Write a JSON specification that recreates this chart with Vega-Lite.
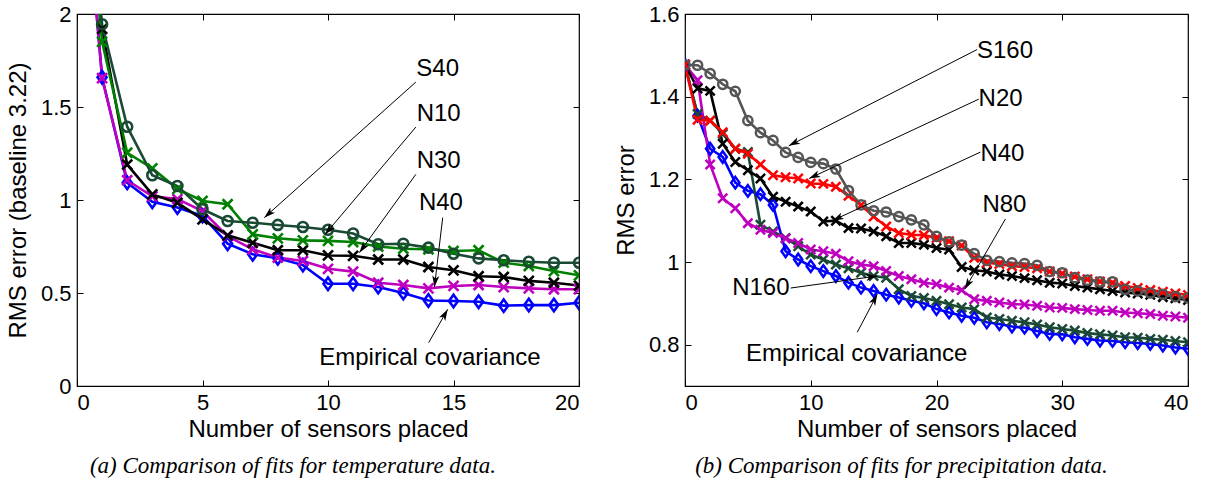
{
  "$schema": "https://vega.github.io/schema/vega-lite/v6.json",
  "background": "white",
  "padding": {"left": 5, "top": 2, "right": 5, "bottom": 0},
  "bounds": "flush",
  "spacing": 106,
  "config": {
    "font": "Liberation Sans",
    "view": {"stroke": "black", "strokeWidth": 1.2},
    "axis": {
      "domain": false, "grid": false, "tickColor": "black", "tickSize": -6, "tickWidth": 1,
      "labelPadding": 12, "labelFont": "Liberation Sans", "labelFontSize": 22, "labelColor": "black",
      "titleFont": "Liberation Sans", "titleFontSize": 24, "titleFontWeight": "normal", "titleColor": "black"
    }
  },
  "datasets": {
    "temp": [
      {"s": "Empirical", "x": 0, "y": 3.22}, {"s": "Empirical", "x": 1, "y": 1.66}, {"s": "Empirical", "x": 2, "y": 1.093}, {"s": "Empirical", "x": 3, "y": 0.99}, {"s": "Empirical", "x": 4, "y": 0.96}, {"s": "Empirical", "x": 5, "y": 0.914}, {"s": "Empirical", "x": 6, "y": 0.765}, {"s": "Empirical", "x": 7, "y": 0.708}, {"s": "Empirical", "x": 8, "y": 0.687}, {"s": "Empirical", "x": 9, "y": 0.65}, {"s": "Empirical", "x": 10, "y": 0.55}, {"s": "Empirical", "x": 11, "y": 0.55}, {"s": "Empirical", "x": 12, "y": 0.532}, {"s": "Empirical", "x": 13, "y": 0.5}, {"s": "Empirical", "x": 14, "y": 0.46}, {"s": "Empirical", "x": 15, "y": 0.457}, {"s": "Empirical", "x": 16, "y": 0.453}, {"s": "Empirical", "x": 17, "y": 0.432}, {"s": "Empirical", "x": 18, "y": 0.435}, {"s": "Empirical", "x": 19, "y": 0.435}, {"s": "Empirical", "x": 20, "y": 0.448},
      {"s": "N40", "x": 0, "y": 3.22}, {"s": "N40", "x": 1, "y": 1.655}, {"s": "N40", "x": 2, "y": 1.106}, {"s": "N40", "x": 3, "y": 1.02}, {"s": "N40", "x": 4, "y": 1.005}, {"s": "N40", "x": 5, "y": 0.94}, {"s": "N40", "x": 6, "y": 0.806}, {"s": "N40", "x": 7, "y": 0.735}, {"s": "N40", "x": 8, "y": 0.69}, {"s": "N40", "x": 9, "y": 0.672}, {"s": "N40", "x": 10, "y": 0.63}, {"s": "N40", "x": 11, "y": 0.615}, {"s": "N40", "x": 12, "y": 0.555}, {"s": "N40", "x": 13, "y": 0.543}, {"s": "N40", "x": 14, "y": 0.525}, {"s": "N40", "x": 15, "y": 0.538}, {"s": "N40", "x": 16, "y": 0.543}, {"s": "N40", "x": 17, "y": 0.532}, {"s": "N40", "x": 18, "y": 0.525}, {"s": "N40", "x": 19, "y": 0.52}, {"s": "N40", "x": 20, "y": 0.52},
      {"s": "N30", "x": 0, "y": 3.22}, {"s": "N30", "x": 1, "y": 1.92}, {"s": "N30", "x": 2, "y": 1.19}, {"s": "N30", "x": 3, "y": 1.03}, {"s": "N30", "x": 4, "y": 0.985}, {"s": "N30", "x": 5, "y": 0.896}, {"s": "N30", "x": 6, "y": 0.81}, {"s": "N30", "x": 7, "y": 0.77}, {"s": "N30", "x": 8, "y": 0.73}, {"s": "N30", "x": 9, "y": 0.73}, {"s": "N30", "x": 10, "y": 0.702}, {"s": "N30", "x": 11, "y": 0.7}, {"s": "N30", "x": 12, "y": 0.68}, {"s": "N30", "x": 13, "y": 0.68}, {"s": "N30", "x": 14, "y": 0.64}, {"s": "N30", "x": 15, "y": 0.622}, {"s": "N30", "x": 16, "y": 0.59}, {"s": "N30", "x": 17, "y": 0.586}, {"s": "N30", "x": 18, "y": 0.565}, {"s": "N30", "x": 19, "y": 0.555}, {"s": "N30", "x": 20, "y": 0.54},
      {"s": "N10", "x": 0, "y": 3.22}, {"s": "N10", "x": 1, "y": 1.85}, {"s": "N10", "x": 2, "y": 1.254}, {"s": "N10", "x": 3, "y": 1.17}, {"s": "N10", "x": 4, "y": 1.06}, {"s": "N10", "x": 5, "y": 0.995}, {"s": "N10", "x": 6, "y": 0.977}, {"s": "N10", "x": 7, "y": 0.815}, {"s": "N10", "x": 8, "y": 0.794}, {"s": "N10", "x": 9, "y": 0.783}, {"s": "N10", "x": 10, "y": 0.78}, {"s": "N10", "x": 11, "y": 0.774}, {"s": "N10", "x": 12, "y": 0.75}, {"s": "N10", "x": 13, "y": 0.738}, {"s": "N10", "x": 14, "y": 0.735}, {"s": "N10", "x": 15, "y": 0.726}, {"s": "N10", "x": 16, "y": 0.73}, {"s": "N10", "x": 17, "y": 0.663}, {"s": "N10", "x": 18, "y": 0.645}, {"s": "N10", "x": 19, "y": 0.618}, {"s": "N10", "x": 20, "y": 0.595},
      {"s": "S40", "x": 0, "y": 3.22}, {"s": "S40", "x": 1, "y": 1.945}, {"s": "S40", "x": 2, "y": 1.394}, {"s": "S40", "x": 3, "y": 1.133}, {"s": "S40", "x": 4, "y": 1.075}, {"s": "S40", "x": 5, "y": 0.95}, {"s": "S40", "x": 6, "y": 0.887}, {"s": "S40", "x": 7, "y": 0.878}, {"s": "S40", "x": 8, "y": 0.866}, {"s": "S40", "x": 9, "y": 0.855}, {"s": "S40", "x": 10, "y": 0.84}, {"s": "S40", "x": 11, "y": 0.82}, {"s": "S40", "x": 12, "y": 0.762}, {"s": "S40", "x": 13, "y": 0.765}, {"s": "S40", "x": 14, "y": 0.744}, {"s": "S40", "x": 15, "y": 0.711}, {"s": "S40", "x": 16, "y": 0.686}, {"s": "S40", "x": 17, "y": 0.676}, {"s": "S40", "x": 18, "y": 0.668}, {"s": "S40", "x": 19, "y": 0.663}, {"s": "S40", "x": 20, "y": 0.663}
    ],
    "tempNotes": [
      {"lab": "S40", "tx": 14.37, "ty": 1.703, "x1": 13.5, "y1": 1.634, "x2": 7.46, "y2": 0.905, "ang": -131.8},
      {"lab": "N10", "tx": 14.41, "ty": 1.464, "x1": 13.5, "y1": 1.392, "x2": 9.88, "y2": 0.815, "ang": -139.7},
      {"lab": "N30", "tx": 14.41, "ty": 1.21, "x1": 13.5, "y1": 1.138, "x2": 11.25, "y2": 0.717, "ang": -144.1},
      {"lab": "N40", "tx": 14.5, "ty": 0.985, "x1": 14.57, "y1": 0.905, "x2": 14.24, "y2": 0.532, "ang": -173.1},
      {"lab": "Empirical covariance", "tx": 14.06, "ty": 0.152, "x1": 14.01, "y1": 0.233, "x2": 14.77, "y2": 0.412, "ang": 29.6}
    ],
    "precip": [
      {"s": "Empirical", "x": 0, "y": 1.477}, {"s": "Empirical", "x": 1, "y": 1.354}, {"s": "Empirical", "x": 2, "y": 1.274}, {"s": "Empirical", "x": 3, "y": 1.254}, {"s": "Empirical", "x": 4, "y": 1.192}, {"s": "Empirical", "x": 5, "y": 1.172}, {"s": "Empirical", "x": 6, "y": 1.164}, {"s": "Empirical", "x": 7, "y": 1.138}, {"s": "Empirical", "x": 8, "y": 1.026}, {"s": "Empirical", "x": 9, "y": 1.006}, {"s": "Empirical", "x": 10, "y": 0.99}, {"s": "Empirical", "x": 11, "y": 0.978}, {"s": "Empirical", "x": 12, "y": 0.966}, {"s": "Empirical", "x": 13, "y": 0.95}, {"s": "Empirical", "x": 14, "y": 0.938}, {"s": "Empirical", "x": 15, "y": 0.93}, {"s": "Empirical", "x": 16, "y": 0.921}, {"s": "Empirical", "x": 17, "y": 0.914}, {"s": "Empirical", "x": 18, "y": 0.906}, {"s": "Empirical", "x": 19, "y": 0.9}, {"s": "Empirical", "x": 20, "y": 0.886}, {"s": "Empirical", "x": 21, "y": 0.878}, {"s": "Empirical", "x": 22, "y": 0.87}, {"s": "Empirical", "x": 23, "y": 0.865}, {"s": "Empirical", "x": 24, "y": 0.854}, {"s": "Empirical", "x": 25, "y": 0.85}, {"s": "Empirical", "x": 26, "y": 0.844}, {"s": "Empirical", "x": 27, "y": 0.841}, {"s": "Empirical", "x": 28, "y": 0.833}, {"s": "Empirical", "x": 29, "y": 0.826}, {"s": "Empirical", "x": 30, "y": 0.825}, {"s": "Empirical", "x": 31, "y": 0.818}, {"s": "Empirical", "x": 32, "y": 0.814}, {"s": "Empirical", "x": 33, "y": 0.81}, {"s": "Empirical", "x": 34, "y": 0.809}, {"s": "Empirical", "x": 35, "y": 0.806}, {"s": "Empirical", "x": 36, "y": 0.804}, {"s": "Empirical", "x": 37, "y": 0.802}, {"s": "Empirical", "x": 38, "y": 0.798}, {"s": "Empirical", "x": 39, "y": 0.793}, {"s": "Empirical", "x": 40, "y": 0.79},
      {"s": "N160", "x": 0, "y": 1.477}, {"s": "N160", "x": 1, "y": 1.358}, {"s": "N160", "x": 2, "y": 1.342}, {"s": "N160", "x": 3, "y": 1.31}, {"s": "N160", "x": 4, "y": 1.274}, {"s": "N160", "x": 5, "y": 1.266}, {"s": "N160", "x": 6, "y": 1.09}, {"s": "N160", "x": 7, "y": 1.074}, {"s": "N160", "x": 8, "y": 1.058}, {"s": "N160", "x": 9, "y": 1.038}, {"s": "N160", "x": 10, "y": 1.018}, {"s": "N160", "x": 11, "y": 1.006}, {"s": "N160", "x": 12, "y": 0.994}, {"s": "N160", "x": 13, "y": 0.985}, {"s": "N160", "x": 14, "y": 0.974}, {"s": "N160", "x": 15, "y": 0.966}, {"s": "N160", "x": 16, "y": 0.962}, {"s": "N160", "x": 17, "y": 0.934}, {"s": "N160", "x": 18, "y": 0.918}, {"s": "N160", "x": 19, "y": 0.913}, {"s": "N160", "x": 20, "y": 0.906}, {"s": "N160", "x": 21, "y": 0.898}, {"s": "N160", "x": 22, "y": 0.89}, {"s": "N160", "x": 23, "y": 0.886}, {"s": "N160", "x": 24, "y": 0.866}, {"s": "N160", "x": 25, "y": 0.862}, {"s": "N160", "x": 26, "y": 0.858}, {"s": "N160", "x": 27, "y": 0.854}, {"s": "N160", "x": 28, "y": 0.849}, {"s": "N160", "x": 29, "y": 0.842}, {"s": "N160", "x": 30, "y": 0.838}, {"s": "N160", "x": 31, "y": 0.834}, {"s": "N160", "x": 32, "y": 0.828}, {"s": "N160", "x": 33, "y": 0.825}, {"s": "N160", "x": 34, "y": 0.822}, {"s": "N160", "x": 35, "y": 0.818}, {"s": "N160", "x": 36, "y": 0.817}, {"s": "N160", "x": 37, "y": 0.814}, {"s": "N160", "x": 38, "y": 0.812}, {"s": "N160", "x": 39, "y": 0.809}, {"s": "N160", "x": 40, "y": 0.806},
      {"s": "N80", "x": 0, "y": 1.477}, {"s": "N80", "x": 1, "y": 1.44}, {"s": "N80", "x": 2, "y": 1.236}, {"s": "N80", "x": 3, "y": 1.154}, {"s": "N80", "x": 4, "y": 1.13}, {"s": "N80", "x": 5, "y": 1.094}, {"s": "N80", "x": 6, "y": 1.078}, {"s": "N80", "x": 7, "y": 1.07}, {"s": "N80", "x": 8, "y": 1.057}, {"s": "N80", "x": 9, "y": 1.046}, {"s": "N80", "x": 10, "y": 1.03}, {"s": "N80", "x": 11, "y": 1.026}, {"s": "N80", "x": 12, "y": 1.02}, {"s": "N80", "x": 13, "y": 1.002}, {"s": "N80", "x": 14, "y": 0.994}, {"s": "N80", "x": 15, "y": 0.99}, {"s": "N80", "x": 16, "y": 0.978}, {"s": "N80", "x": 17, "y": 0.966}, {"s": "N80", "x": 18, "y": 0.958}, {"s": "N80", "x": 19, "y": 0.95}, {"s": "N80", "x": 20, "y": 0.946}, {"s": "N80", "x": 21, "y": 0.938}, {"s": "N80", "x": 22, "y": 0.932}, {"s": "N80", "x": 23, "y": 0.91}, {"s": "N80", "x": 24, "y": 0.906}, {"s": "N80", "x": 25, "y": 0.902}, {"s": "N80", "x": 26, "y": 0.898}, {"s": "N80", "x": 27, "y": 0.897}, {"s": "N80", "x": 28, "y": 0.894}, {"s": "N80", "x": 29, "y": 0.89}, {"s": "N80", "x": 30, "y": 0.889}, {"s": "N80", "x": 31, "y": 0.886}, {"s": "N80", "x": 32, "y": 0.884}, {"s": "N80", "x": 33, "y": 0.882}, {"s": "N80", "x": 34, "y": 0.882}, {"s": "N80", "x": 35, "y": 0.878}, {"s": "N80", "x": 36, "y": 0.876}, {"s": "N80", "x": 37, "y": 0.874}, {"s": "N80", "x": 38, "y": 0.87}, {"s": "N80", "x": 39, "y": 0.868}, {"s": "N80", "x": 40, "y": 0.865},
      {"s": "N40", "x": 0, "y": 1.477}, {"s": "N40", "x": 1, "y": 1.42}, {"s": "N40", "x": 2, "y": 1.414}, {"s": "N40", "x": 3, "y": 1.286}, {"s": "N40", "x": 4, "y": 1.242}, {"s": "N40", "x": 5, "y": 1.222}, {"s": "N40", "x": 6, "y": 1.202}, {"s": "N40", "x": 7, "y": 1.158}, {"s": "N40", "x": 8, "y": 1.146}, {"s": "N40", "x": 9, "y": 1.134}, {"s": "N40", "x": 10, "y": 1.122}, {"s": "N40", "x": 11, "y": 1.098}, {"s": "N40", "x": 12, "y": 1.1}, {"s": "N40", "x": 13, "y": 1.082}, {"s": "N40", "x": 14, "y": 1.081}, {"s": "N40", "x": 15, "y": 1.074}, {"s": "N40", "x": 16, "y": 1.062}, {"s": "N40", "x": 17, "y": 1.046}, {"s": "N40", "x": 18, "y": 1.046}, {"s": "N40", "x": 19, "y": 1.042}, {"s": "N40", "x": 20, "y": 1.034}, {"s": "N40", "x": 21, "y": 1.03}, {"s": "N40", "x": 22, "y": 0.988}, {"s": "N40", "x": 23, "y": 0.98}, {"s": "N40", "x": 24, "y": 0.977}, {"s": "N40", "x": 25, "y": 0.97}, {"s": "N40", "x": 26, "y": 0.966}, {"s": "N40", "x": 27, "y": 0.961}, {"s": "N40", "x": 28, "y": 0.956}, {"s": "N40", "x": 29, "y": 0.95}, {"s": "N40", "x": 30, "y": 0.948}, {"s": "N40", "x": 31, "y": 0.942}, {"s": "N40", "x": 32, "y": 0.938}, {"s": "N40", "x": 33, "y": 0.934}, {"s": "N40", "x": 34, "y": 0.93}, {"s": "N40", "x": 35, "y": 0.926}, {"s": "N40", "x": 36, "y": 0.924}, {"s": "N40", "x": 37, "y": 0.921}, {"s": "N40", "x": 38, "y": 0.915}, {"s": "N40", "x": 39, "y": 0.912}, {"s": "N40", "x": 40, "y": 0.908},
      {"s": "N20", "x": 0, "y": 1.477}, {"s": "N20", "x": 1, "y": 1.344}, {"s": "N20", "x": 2, "y": 1.342}, {"s": "N20", "x": 3, "y": 1.314}, {"s": "N20", "x": 4, "y": 1.274}, {"s": "N20", "x": 5, "y": 1.262}, {"s": "N20", "x": 6, "y": 1.236}, {"s": "N20", "x": 7, "y": 1.21}, {"s": "N20", "x": 8, "y": 1.205}, {"s": "N20", "x": 9, "y": 1.202}, {"s": "N20", "x": 10, "y": 1.19}, {"s": "N20", "x": 11, "y": 1.189}, {"s": "N20", "x": 12, "y": 1.182}, {"s": "N20", "x": 13, "y": 1.16}, {"s": "N20", "x": 14, "y": 1.138}, {"s": "N20", "x": 15, "y": 1.11}, {"s": "N20", "x": 16, "y": 1.086}, {"s": "N20", "x": 17, "y": 1.07}, {"s": "N20", "x": 18, "y": 1.066}, {"s": "N20", "x": 19, "y": 1.065}, {"s": "N20", "x": 20, "y": 1.058}, {"s": "N20", "x": 21, "y": 1.05}, {"s": "N20", "x": 22, "y": 1.04}, {"s": "N20", "x": 23, "y": 1.01}, {"s": "N20", "x": 24, "y": 0.998}, {"s": "N20", "x": 25, "y": 0.995}, {"s": "N20", "x": 26, "y": 0.99}, {"s": "N20", "x": 27, "y": 0.988}, {"s": "N20", "x": 28, "y": 0.985}, {"s": "N20", "x": 29, "y": 0.977}, {"s": "N20", "x": 30, "y": 0.972}, {"s": "N20", "x": 31, "y": 0.965}, {"s": "N20", "x": 32, "y": 0.958}, {"s": "N20", "x": 33, "y": 0.953}, {"s": "N20", "x": 34, "y": 0.95}, {"s": "N20", "x": 35, "y": 0.942}, {"s": "N20", "x": 36, "y": 0.937}, {"s": "N20", "x": 37, "y": 0.932}, {"s": "N20", "x": 38, "y": 0.928}, {"s": "N20", "x": 39, "y": 0.924}, {"s": "N20", "x": 40, "y": 0.92},
      {"s": "S160", "x": 0, "y": 1.477}, {"s": "S160", "x": 1, "y": 1.476}, {"s": "S160", "x": 2, "y": 1.456}, {"s": "S160", "x": 3, "y": 1.43}, {"s": "S160", "x": 4, "y": 1.413}, {"s": "S160", "x": 5, "y": 1.342}, {"s": "S160", "x": 6, "y": 1.313}, {"s": "S160", "x": 7, "y": 1.294}, {"s": "S160", "x": 8, "y": 1.265}, {"s": "S160", "x": 9, "y": 1.253}, {"s": "S160", "x": 10, "y": 1.241}, {"s": "S160", "x": 11, "y": 1.238}, {"s": "S160", "x": 12, "y": 1.225}, {"s": "S160", "x": 13, "y": 1.173}, {"s": "S160", "x": 14, "y": 1.138}, {"s": "S160", "x": 15, "y": 1.124}, {"s": "S160", "x": 16, "y": 1.121}, {"s": "S160", "x": 17, "y": 1.11}, {"s": "S160", "x": 18, "y": 1.102}, {"s": "S160", "x": 19, "y": 1.09}, {"s": "S160", "x": 20, "y": 1.062}, {"s": "S160", "x": 21, "y": 1.049}, {"s": "S160", "x": 22, "y": 1.041}, {"s": "S160", "x": 23, "y": 1.02}, {"s": "S160", "x": 24, "y": 1.004}, {"s": "S160", "x": 25, "y": 1.001}, {"s": "S160", "x": 26, "y": 0.998}, {"s": "S160", "x": 27, "y": 0.996}, {"s": "S160", "x": 28, "y": 0.992}, {"s": "S160", "x": 29, "y": 0.977}, {"s": "S160", "x": 30, "y": 0.974}, {"s": "S160", "x": 31, "y": 0.962}, {"s": "S160", "x": 32, "y": 0.956}, {"s": "S160", "x": 33, "y": 0.952}, {"s": "S160", "x": 34, "y": 0.952}, {"s": "S160", "x": 35, "y": 0.934}, {"s": "S160", "x": 36, "y": 0.93}, {"s": "S160", "x": 37, "y": 0.925}, {"s": "S160", "x": 38, "y": 0.922}, {"s": "S160", "x": 39, "y": 0.916}, {"s": "S160", "x": 40, "y": 0.913}
    ],
    "precipNotes": [
      {"lab": "S160", "tx": 25.45, "ty": 1.511, "x1": 23.23, "y1": 1.514, "x2": 8.25, "y2": 1.281, "ang": -117.3},
      {"lab": "N20", "tx": 25.1, "ty": 1.394, "x1": 23.36, "y1": 1.394, "x2": 9.87, "y2": 1.202, "ang": -115.2},
      {"lab": "N40", "tx": 25.24, "ty": 1.262, "x1": 23.5, "y1": 1.266, "x2": 11.72, "y2": 1.1, "ang": -115.0},
      {"lab": "N80", "tx": 25.4, "ty": 1.138, "x1": 25.48, "y1": 1.104, "x2": 22.25, "y2": 0.934, "ang": -150.2},
      {"lab": "N160", "tx": 6.03, "ty": 0.938, "x1": 8.4, "y1": 0.937, "x2": 15.29, "y2": 0.966, "ang": 82.1},
      {"lab": "Empirical covariance", "tx": 13.65, "ty": 0.778, "x1": 13.7, "y1": 0.83, "x2": 15.29, "y2": 0.922, "ang": 27.5}
    ]
  },
  "hconcat": [
    {
      "width": 502,
      "height": 372,
      "title": {"text": "(a)  Comparison of fits for temperature data.", "orient": "bottom", "anchor": "middle", "frame": "bounds", "font": "Liberation Serif", "fontStyle": "italic", "fontSize": 23, "fontWeight": "normal", "offset": 14, "color": "black"},
      "resolve": {"axis": {"x": "independent", "y": "independent"}},
      "layer": [
        {
          "data": {"name": "temp"},
          "mark": {"type": "line", "clip": true, "strokeWidth": 2.6},
          "encoding": {
            "x": {"field": "x", "type": "quantitative", "scale": {"domain": [0, 20], "nice": false, "zero": false}, "axis": {"values": [0, 5, 10, 15, 20], "title": "Number of sensors placed", "titlePadding": 4}},
            "y": {"field": "y", "type": "quantitative", "scale": {"domain": [0, 2], "nice": false, "zero": false}, "axis": {"values": [0, 0.5, 1, 1.5, 2], "format": "~g", "title": "RMS error (baseline 3.22)", "titlePadding": 10}},
            "color": {"field": "s", "type": "nominal", "scale": {"domain": ["Empirical", "N40", "N30", "N10", "S40"], "range": ["#0000ff", "#bf00bf", "#000000", "#008000", "#1a4a34"]}, "legend": null}
          }
        },
        {
          "data": {"name": "temp"},
          "mark": {"type": "point", "clip": true, "filled": false, "strokeWidth": 2.6, "size": 100, "opacity": 1},
          "encoding": {
            "x": {"field": "x", "type": "quantitative", "scale": {"domain": [0, 20], "nice": false, "zero": false}, "axis": {"orient": "top", "values": [0, 5, 10, 15, 20], "labels": false, "title": null}},
            "y": {"field": "y", "type": "quantitative", "scale": {"domain": [0, 2], "nice": false, "zero": false}, "axis": {"orient": "right", "values": [0, 0.5, 1, 1.5, 2], "labels": false, "title": null}},
            "color": {"field": "s", "type": "nominal", "scale": {"domain": ["Empirical", "N40", "N30", "N10", "S40"], "range": ["#0000ff", "#bf00bf", "#000000", "#008000", "#1a4a34"]}, "legend": null},
            "shape": {"field": "s", "type": "nominal", "scale": {"domain": ["Empirical", "N40", "N30", "N10", "S40"], "range": ["M0,-1.25L0.9,0L0,1.25L-0.9,0Z", "M-1,-1L1,1M-1,1L1,-1", "M-1,-1L1,1M-1,1L1,-1", "M-1,-1L1,1M-1,1L1,-1", "circle"]}, "legend": null}
          }
        },
        {
          "data": {"name": "tempNotes"},
          "mark": {"type": "rule", "color": "black", "strokeWidth": 1},
          "encoding": {
            "x": {"field": "x1", "type": "quantitative", "scale": {"domain": [0, 20], "nice": false, "zero": false}, "axis": null},
            "y": {"field": "y1", "type": "quantitative", "scale": {"domain": [0, 2], "nice": false, "zero": false}, "axis": null},
            "x2": {"field": "x2"},
            "y2": {"field": "y2"}
          }
        },
        {
          "data": {"name": "tempNotes"},
          "mark": {"type": "point", "filled": true, "color": "black", "opacity": 1, "size": 200, "shape": "M0,0L0.5,1.6L0,1.2L-0.5,1.6Z"},
          "encoding": {
            "x": {"field": "x2", "type": "quantitative", "scale": {"domain": [0, 20], "nice": false, "zero": false}, "axis": null},
            "y": {"field": "y2", "type": "quantitative", "scale": {"domain": [0, 2], "nice": false, "zero": false}, "axis": null},
            "angle": {"field": "ang", "type": "quantitative", "scale": null}
          }
        },
        {
          "data": {"name": "tempNotes"},
          "mark": {"type": "text", "font": "Liberation Sans", "fontSize": 24, "color": "black", "align": "center", "baseline": "middle"},
          "encoding": {
            "x": {"field": "tx", "type": "quantitative", "scale": {"domain": [0, 20], "nice": false, "zero": false}, "axis": null},
            "y": {"field": "ty", "type": "quantitative", "scale": {"domain": [0, 2], "nice": false, "zero": false}, "axis": null},
            "text": {"field": "lab"}
          }
        }
      ]
    },
    {
      "width": 503,
      "height": 372,
      "title": {"text": "(b)  Comparison of fits for precipitation data.", "orient": "bottom", "anchor": "middle", "frame": "bounds", "font": "Liberation Serif", "fontStyle": "italic", "fontSize": 23, "fontWeight": "normal", "offset": 14, "color": "black"},
      "resolve": {"axis": {"x": "independent", "y": "independent"}},
      "layer": [
        {
          "data": {"name": "precip"},
          "mark": {"type": "line", "clip": true, "strokeWidth": 2.6},
          "encoding": {
            "x": {"field": "x", "type": "quantitative", "scale": {"domain": [0, 40], "nice": false, "zero": false}, "axis": {"values": [0, 10, 20, 30, 40], "title": "Number of sensors placed", "titlePadding": 4}},
            "y": {"field": "y", "type": "quantitative", "scale": {"domain": [0.7, 1.6], "nice": false, "zero": false}, "axis": {"values": [0.8, 1, 1.2, 1.4, 1.6], "format": "~g", "title": "RMS error", "titlePadding": 10}},
            "color": {"field": "s", "type": "nominal", "scale": {"domain": ["Empirical", "N160", "N80", "N40", "N20", "S160"], "range": ["#0000ff", "#1a4a34", "#bf00bf", "#000000", "#ff0000", "#555555"]}, "legend": null}
          }
        },
        {
          "data": {"name": "precip"},
          "mark": {"type": "point", "clip": true, "filled": false, "strokeWidth": 2.5, "size": 85, "opacity": 1},
          "encoding": {
            "x": {"field": "x", "type": "quantitative", "scale": {"domain": [0, 40], "nice": false, "zero": false}, "axis": {"orient": "top", "values": [0, 10, 20, 30, 40], "labels": false, "title": null}},
            "y": {"field": "y", "type": "quantitative", "scale": {"domain": [0.7, 1.6], "nice": false, "zero": false}, "axis": {"orient": "right", "values": [0.8, 1, 1.2, 1.4, 1.6], "labels": false, "title": null}},
            "color": {"field": "s", "type": "nominal", "scale": {"domain": ["Empirical", "N160", "N80", "N40", "N20", "S160"], "range": ["#0000ff", "#1a4a34", "#bf00bf", "#000000", "#ff0000", "#555555"]}, "legend": null},
            "shape": {"field": "s", "type": "nominal", "scale": {"domain": ["Empirical", "N160", "N80", "N40", "N20", "S160"], "range": ["M0,-1.25L0.9,0L0,1.25L-0.9,0Z", "M-1,-1L1,1M-1,1L1,-1", "M-1,-1L1,1M-1,1L1,-1", "M-1,-1L1,1M-1,1L1,-1", "M-1,-1L1,1M-1,1L1,-1", "circle"]}, "legend": null}
          }
        },
        {
          "data": {"name": "precipNotes"},
          "mark": {"type": "rule", "color": "black", "strokeWidth": 1},
          "encoding": {
            "x": {"field": "x1", "type": "quantitative", "scale": {"domain": [0, 40], "nice": false, "zero": false}, "axis": null},
            "y": {"field": "y1", "type": "quantitative", "scale": {"domain": [0.7, 1.6], "nice": false, "zero": false}, "axis": null},
            "x2": {"field": "x2"},
            "y2": {"field": "y2"}
          }
        },
        {
          "data": {"name": "precipNotes"},
          "mark": {"type": "point", "filled": true, "color": "black", "opacity": 1, "size": 200, "shape": "M0,0L0.5,1.6L0,1.2L-0.5,1.6Z"},
          "encoding": {
            "x": {"field": "x2", "type": "quantitative", "scale": {"domain": [0, 40], "nice": false, "zero": false}, "axis": null},
            "y": {"field": "y2", "type": "quantitative", "scale": {"domain": [0.7, 1.6], "nice": false, "zero": false}, "axis": null},
            "angle": {"field": "ang", "type": "quantitative", "scale": null}
          }
        },
        {
          "data": {"name": "precipNotes"},
          "mark": {"type": "text", "font": "Liberation Sans", "fontSize": 24, "color": "black", "align": "center", "baseline": "middle"},
          "encoding": {
            "x": {"field": "tx", "type": "quantitative", "scale": {"domain": [0, 40], "nice": false, "zero": false}, "axis": null},
            "y": {"field": "ty", "type": "quantitative", "scale": {"domain": [0.7, 1.6], "nice": false, "zero": false}, "axis": null},
            "text": {"field": "lab"}
          }
        }
      ]
    }
  ],
  "resolve": {"scale": {"x": "independent", "y": "independent", "color": "independent", "shape": "independent"}}
}
